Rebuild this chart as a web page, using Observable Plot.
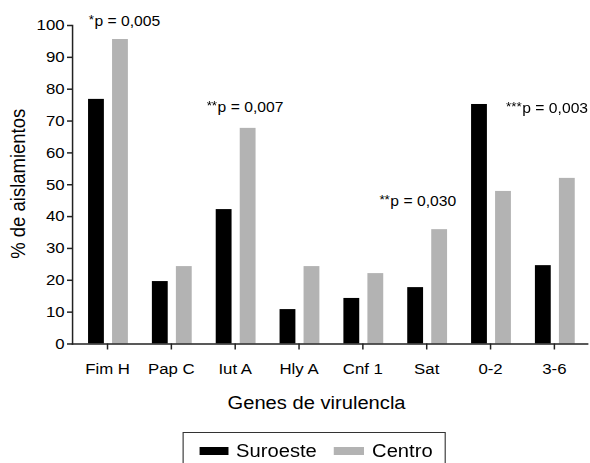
<!DOCTYPE html>
<html><head><meta charset="utf-8">
<script src="https://cdn.jsdelivr.net/npm/d3@7"></script>
<script src="https://cdn.jsdelivr.net/npm/@observablehq/plot@0.6"></script>
<style>
body{margin:0;background:#fff;font-family:"Liberation Sans",Arial,sans-serif;position:relative;width:590px;height:463px;overflow:hidden;}
#wrap{position:absolute;left:0;top:0;height:463px;transform-origin:0 0;}
#chart{position:absolute;left:0;top:0;}
#legend{position:absolute;top:432px;height:44px;border:1.5px solid #333;box-sizing:border-box;font-size:18px;color:#000;}
#legend .sw{position:absolute;top:14px;height:8px;}
#legend .lb{position:absolute;top:7px;line-height:22px;white-space:nowrap;}
</style></head><body>
<div id="wrap"><div id="chart"></div><div id="legend"></div></div>
<script>
const categories = ["Fim H","Pap C","Iut A","Hly A","Cnf 1","Sat","0-2","3-6"];
const series = ["Suroeste","Centro"];
const suroeste = [76.8,19.6,42.2,10.8,14.3,17.7,75.2,24.6];
const centro = [95.6,24.3,67.7,24.3,22.1,35.9,47.9,52.0];
const colors = ["#000000","#b3b3b3"];
const yTicks = [0,10,20,30,40,50,60,70,80,90,100];
const annCats = ["Fim H","Iut A","Sat","3-6"];
const annY = [101.3,74.3,44.7,73.9];
const annStars = ["*","**","**","***"];
const annText = ["p = 0,005","p = 0,007","p = 0,030","p = 0,003"];
const annDx = [19,14.5,-4.25,0];
const xLabel = "Genes de virulencla";
const yLabel = "% de aislamientos";

// the reference is horizontally stretched; draw at a narrower width and stretch
const S = 1.12;
const W = 590 / S;
const wrap = document.getElementById("wrap");
wrap.style.width = W + "px";
wrap.style.transform = `scaleX(${S})`;

const data = categories.flatMap((c,i)=>[
  {cat:c, serie:series[0], value:suroeste[i]},
  {cat:c, serie:series[1], value:centro[i]}
]);
const ann = annCats.map((c,i)=>({cat:c, y:annY[i], stars:annStars[i], text:annText[i], dx:annDx[i]}));

const mL = 72 / S, xStart = 73 / S, xEnd = 587 / S;
const halfStep = (xEnd - xStart) / categories.length / 2;
const axisColor = "#222";
const chart = Plot.plot({
  width:W, height:422,
  marginLeft:mL, marginRight:W - xEnd, marginTop:25, marginBottom:78.5,
  style:{fontFamily:"Liberation Sans, Arial, sans-serif", fontSize:"15px", color:"#000", background:"#fff", overflow:"visible"},
  x:{domain:categories, padding:0, insetLeft:xStart - mL, label:null},
  y:{domain:[0,100], label:null},
  marks:[
    Plot.barY(data.filter(d=>d.serie===series[0]), {x:"cat", y:"value", fill:colors[0], insetLeft:13/S, insetRight:35/S}),
    Plot.barY(data.filter(d=>d.serie===series[1]), {x:"cat", y:"value", fill:colors[1], insetLeft:37/S, insetRight:11/S}),
    Plot.axisY({ticks:yTicks, tickSize:5/S, tickPadding:3/S, label:null, fontSize:15, stroke:axisColor, strokeWidth:1.5}),
    Plot.axisX({tickSize:6, tickPadding:13, label:null, fontSize:15, stroke:axisColor, strokeWidth:1.5/S}),
    Plot.frame({anchor:"left", stroke:axisColor, strokeWidth:1.5/S}),
    Plot.frame({anchor:"bottom", stroke:axisColor, strokeWidth:1.5}),
    Plot.text([yLabel], {frameAnchor:"left", textAnchor:"middle", rotate:-90, dx:-54/S, dy:-1, fontSize:18.5, fill:"#000"}),
    Plot.text([xLabel], {frameAnchor:"bottom", textAnchor:"middle", dx:-13.5/S, dy:65, fontSize:18, fill:"#000"}),
    ...ann.map(a => Plot.text([a], {x:"cat", y:"y", text:"text", textAnchor:"start", dx:(a.dx - halfStep*S)/S, fontSize:14, fill:"#000"})),
    ...ann.map(a => Plot.text([a], {x:"cat", y:"y", text:"stars", textAnchor:"end", dx:(a.dx - halfStep*S - 0.5)/S, dy:-1, fontSize:12, fill:"#000"}))
  ]
});
document.getElementById("chart").appendChild(chart);

const leg = document.getElementById("legend");
leg.style.left = (183/S) + "px";
leg.style.width = (263/S) + "px";
const swLeft = [15, 150], swW = [29, 30], lbLeft = [52, 188];
series.forEach((s,i)=>{
  const sw = document.createElement("div"); sw.className="sw";
  sw.style.left=(swLeft[i]/S)+"px"; sw.style.width=(swW[i]/S)+"px"; sw.style.background=colors[i]; leg.appendChild(sw);
  const lb = document.createElement("div"); lb.className="lb"; lb.style.left=(lbLeft[i]/S)+"px"; lb.textContent=s; leg.appendChild(lb);
});
</script>
</body></html>
